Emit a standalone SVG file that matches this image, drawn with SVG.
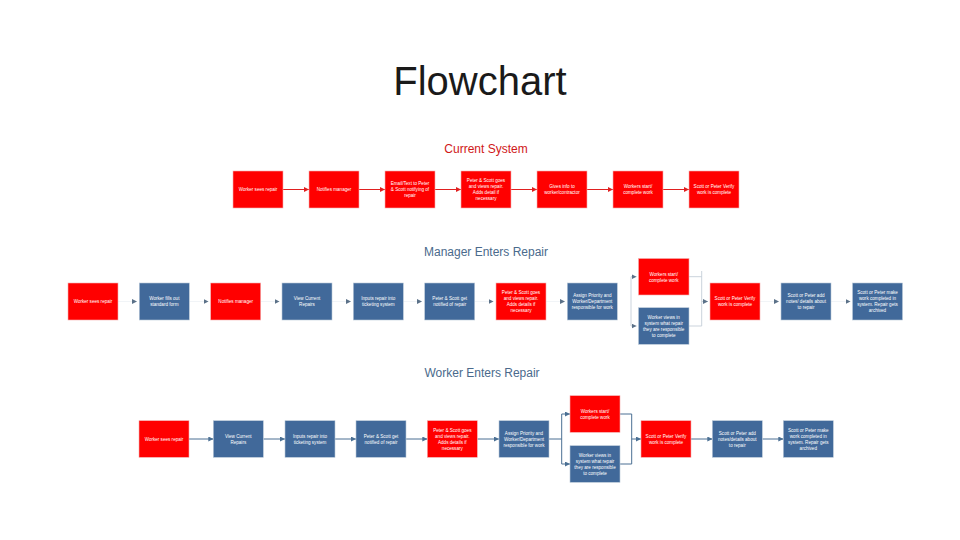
<svg xmlns="http://www.w3.org/2000/svg" width="960" height="540" viewBox="0 0 960 540">
<style>
.title{font-family:"Liberation Sans",Arial,sans-serif;font-size:40px;fill:#1a1a1a;text-anchor:middle}
.sec{font-family:"Liberation Sans",Arial,sans-serif;font-size:12px;text-anchor:middle}
.red{fill:#ff0000;stroke:#f4b0b0;stroke-width:0.6}
.blue{fill:#41699a;stroke:#b9c8d8;stroke-width:0.6}
.t{font-family:"Liberation Sans",Arial,sans-serif;font-size:4.6px;fill:#ffffff;text-anchor:middle}
.cr{fill:none;stroke:#e02020;stroke-width:1}
.cb{fill:none;stroke:#4a6f93;stroke-width:1}
.cf{fill:none;stroke:#eef1f5;stroke-width:0.8}
.cg{fill:none;stroke:#c5ced8;stroke-width:0.9}
</style>
<defs>
<marker id="ar" markerUnits="userSpaceOnUse" markerWidth="5" markerHeight="5" refX="5" refY="2.5" orient="auto"><path d="M0,0 L5,2.5 L0,5 z" fill="#e02020"/></marker>
<marker id="ab" markerUnits="userSpaceOnUse" markerWidth="5" markerHeight="5" refX="5" refY="2.5" orient="auto"><path d="M0,0 L5,2.5 L0,5 z" fill="#4a6f93"/></marker>
<marker id="ag" markerUnits="userSpaceOnUse" markerWidth="5" markerHeight="5" refX="5" refY="2.5" orient="auto"><path d="M0,0 L5,2.5 L0,5 z" fill="#5b7188"/></marker>
</defs>
<rect width="960" height="540" fill="#ffffff"/>
<text class="title" x="480" y="95">Flowchart</text>
<text class="sec" x="486" y="153" fill="#d01818">Current System</text>
<text class="sec" x="486" y="256" fill="#4a6a8c">Manager Enters Repair</text>
<text class="sec" x="482" y="377" fill="#4a6a8c">Worker Enters Repair</text>

<g id="connectors">
<!-- Current system -->
<path class="cr" d="M283,189.5 H309" marker-end="url(#ar)"/>
<path class="cr" d="M359,189.5 H385" marker-end="url(#ar)"/>
<path class="cr" d="M435,189.5 H461" marker-end="url(#ar)"/>
<path class="cr" d="M511,189.5 H537" marker-end="url(#ar)"/>
<path class="cr" d="M587,189.5 H613" marker-end="url(#ar)"/>
<path class="cr" d="M663,189.5 H689" marker-end="url(#ar)"/>
<!-- Manager -->
<path class="cf" d="M118,301.5 H137" marker-end="url(#ag)"/>
<path class="cf" d="M189.3,301.5 H208.5" marker-end="url(#ag)"/>
<path class="cf" d="M260.7,301.5 H279.5" marker-end="url(#ag)"/>
<path class="cf" d="M332,301.5 H351" marker-end="url(#ag)"/>
<path class="cf" d="M403.3,301.5 H422" marker-end="url(#ag)"/>
<path class="cf" d="M474.7,301.5 H493.5" marker-end="url(#ag)"/>
<path class="cf" d="M546,301.5 H565" marker-end="url(#ag)"/>
<path class="cg" d="M631,276.7 V326"/>
<path class="cg" d="M631,276.7 H636.5" marker-end="url(#ag)"/>
<path class="cg" d="M631,326 H636.5" marker-end="url(#ag)"/>
<path class="cg" d="M689,276.7 H701.7 M689,326 H701.7 M701.7,271 V326"/>
<path class="cg" d="M701.7,301.5 H708" marker-end="url(#ag)"/>
<path class="cf" d="M760,301.5 H779" marker-end="url(#ag)"/>
<path class="cf" d="M831,301.5 H850.5" marker-end="url(#ag)"/>
<!-- Worker -->
<path class="cb" d="M189,439 H213.3" marker-end="url(#ab)"/>
<path class="cb" d="M263.3,439 H285" marker-end="url(#ab)"/>
<path class="cb" d="M335,439 H356" marker-end="url(#ab)"/>
<path class="cb" d="M406,439 H427.3" marker-end="url(#ab)"/>
<path class="cb" d="M477.3,439 H499" marker-end="url(#ab)"/>
<path class="cb" d="M549,439 H561.7 M561.7,414 V464"/>
<path class="cb" d="M561.7,414 H570" marker-end="url(#ab)"/>
<path class="cb" d="M561.7,464 H570" marker-end="url(#ab)"/>
<path class="cb" d="M620,414 H631.7 M620,464 H631.7 M631.7,414 V464"/>
<path class="cb" d="M631.7,439 H641" marker-end="url(#ab)"/>
<path class="cb" d="M691,439 H712.3" marker-end="url(#ab)"/>
<path class="cb" d="M762.3,439 H783.3" marker-end="url(#ab)"/>
</g>

<!-- Current System nodes -->
<g id="c1"><rect class="red" x="233" y="171" width="50" height="37"/><text class="t" x="258" y="191">Worker sees repair</text></g>
<g id="c2"><rect class="red" x="309" y="171" width="50" height="37"/><text class="t" x="334" y="191">Notifies manager</text></g>
<g id="c3"><rect class="red" x="385" y="171" width="50" height="37"/><text class="t" x="410" y="185"><tspan x="410">Email/Text to Peter</tspan><tspan x="410" dy="6">&amp; Scott notifying of</tspan><tspan x="410" dy="6">repair</tspan></text></g>
<g id="c4"><rect class="red" x="461" y="171" width="50" height="37"/><text class="t" x="486" y="182"><tspan x="486">Peter &amp; Scott goes</tspan><tspan x="486" dy="6">and views repair.</tspan><tspan x="486" dy="6">Adds detail if</tspan><tspan x="486" dy="6">necessary</tspan></text></g>
<g id="c5"><rect class="red" x="537" y="171" width="50" height="37"/><text class="t" x="562" y="188"><tspan x="562">Gives info to</tspan><tspan x="562" dy="6">worker/contractor</tspan></text></g>
<g id="c6"><rect class="red" x="613" y="171" width="50" height="37"/><text class="t" x="638" y="188"><tspan x="638">Workers start/</tspan><tspan x="638" dy="6">complete work</tspan></text></g>
<g id="c7"><rect class="red" x="689" y="171" width="50" height="37"/><text class="t" x="714" y="188"><tspan x="714">Scott or Peter Verify</tspan><tspan x="714" dy="6">work is complete</tspan></text></g>

<!-- Manager Enters Repair nodes -->
<g id="m1"><rect class="red" x="68" y="283" width="50" height="37"/><text class="t" x="93" y="303">Worker sees repair</text></g>
<g id="m2"><rect class="blue" x="139.3" y="283" width="50" height="37"/><text class="t" x="164.3" y="300"><tspan x="164.3">Worker fills out</tspan><tspan x="164.3" dy="6">standard form</tspan></text></g>
<g id="m3"><rect class="red" x="210.7" y="283" width="50" height="37"/><text class="t" x="235.7" y="303">Notifies manager</text></g>
<g id="m4"><rect class="blue" x="282" y="283" width="50" height="37"/><text class="t" x="307" y="300"><tspan x="307">View Current</tspan><tspan x="307" dy="6">Repairs</tspan></text></g>
<g id="m5"><rect class="blue" x="353.3" y="283" width="50" height="37"/><text class="t" x="378.3" y="300"><tspan x="378.3">Inputs repair into</tspan><tspan x="378.3" dy="6">ticketing system</tspan></text></g>
<g id="m6"><rect class="blue" x="424.7" y="283" width="50" height="37"/><text class="t" x="449.7" y="300"><tspan x="449.7">Peter &amp; Scott get</tspan><tspan x="449.7" dy="6">notified of repair</tspan></text></g>
<g id="m7"><rect class="red" x="496" y="283" width="50" height="37"/><text class="t" x="521" y="294"><tspan x="521">Peter &amp; Scott goes</tspan><tspan x="521" dy="6">and views repair.</tspan><tspan x="521" dy="6">Adds details if</tspan><tspan x="521" dy="6">necessary</tspan></text></g>
<g id="m8"><rect class="blue" x="567.3" y="283" width="50" height="37"/><text class="t" x="592.3" y="297"><tspan x="592.3">Assign Priority and</tspan><tspan x="592.3" dy="6">Worker/Department</tspan><tspan x="592.3" dy="6">responsible for work</tspan></text></g>
<g id="m9"><rect class="red" x="638.5" y="258.5" width="50.5" height="36.5"/><text class="t" x="663.7" y="275.5"><tspan x="663.7">Workers start/</tspan><tspan x="663.7" dy="6">complete work</tspan></text></g>
<g id="m10"><rect class="blue" x="638.5" y="307.7" width="50.5" height="36.6"/><text class="t" x="663.7" y="318.5"><tspan x="663.7">Worker views in</tspan><tspan x="663.7" dy="6">system what repair</tspan><tspan x="663.7" dy="6">they are responsible</tspan><tspan x="663.7" dy="6">to complete</tspan></text></g>
<g id="m11"><rect class="red" x="710" y="283" width="50" height="37"/><text class="t" x="735" y="300"><tspan x="735">Scott or Peter Verify</tspan><tspan x="735" dy="6">work is complete</tspan></text></g>
<g id="m12"><rect class="blue" x="781" y="283" width="50" height="37"/><text class="t" x="806" y="297"><tspan x="806">Scott or Peter add</tspan><tspan x="806" dy="6">notes/ details about</tspan><tspan x="806" dy="6">to repair</tspan></text></g>
<g id="m13"><rect class="blue" x="852.5" y="283" width="50" height="37"/><text class="t" x="877.5" y="294"><tspan x="877.5">Scott or Peter make</tspan><tspan x="877.5" dy="6">work completed in</tspan><tspan x="877.5" dy="6">system. Repair gets</tspan><tspan x="877.5" dy="6">archived</tspan></text></g>

<!-- Worker Enters Repair nodes -->
<g id="w1"><rect class="red" x="139" y="420.7" width="50" height="36.6"/><text class="t" x="164" y="440.6">Worker sees repair</text></g>
<g id="w2"><rect class="blue" x="213.3" y="420.7" width="50" height="36.6"/><text class="t" x="238.3" y="437.6"><tspan x="238.3">View Current</tspan><tspan x="238.3" dy="6">Repairs</tspan></text></g>
<g id="w3"><rect class="blue" x="285" y="420.7" width="50" height="36.6"/><text class="t" x="310" y="437.6"><tspan x="310">Inputs repair into</tspan><tspan x="310" dy="6">ticketing system</tspan></text></g>
<g id="w4"><rect class="blue" x="356" y="420.7" width="50" height="36.6"/><text class="t" x="381" y="437.6"><tspan x="381">Peter &amp; Scott get</tspan><tspan x="381" dy="6">notified of repair</tspan></text></g>
<g id="w5"><rect class="red" x="427.3" y="420.7" width="50" height="36.6"/><text class="t" x="452.3" y="431.6"><tspan x="452.3">Peter &amp; Scott goes</tspan><tspan x="452.3" dy="6">and views repair.</tspan><tspan x="452.3" dy="6">Adds details if</tspan><tspan x="452.3" dy="6">necessary</tspan></text></g>
<g id="w6"><rect class="blue" x="499" y="420.7" width="50" height="36.6"/><text class="t" x="524" y="434.6"><tspan x="524">Assign Priority and</tspan><tspan x="524" dy="6">Worker/Department</tspan><tspan x="524" dy="6">responsible for work</tspan></text></g>
<g id="w7"><rect class="red" x="570" y="395.7" width="50" height="36.6"/><text class="t" x="595" y="412.6"><tspan x="595">Workers start/</tspan><tspan x="595" dy="6">complete work</tspan></text></g>
<g id="w8"><rect class="blue" x="570" y="445.7" width="50" height="36.6"/><text class="t" x="595" y="456.6"><tspan x="595">Worker views in</tspan><tspan x="595" dy="6">system what repair</tspan><tspan x="595" dy="6">they are responsible</tspan><tspan x="595" dy="6">to complete</tspan></text></g>
<g id="w9"><rect class="red" x="641" y="420.7" width="50" height="36.6"/><text class="t" x="666" y="437.6"><tspan x="666">Scott or Peter Verify</tspan><tspan x="666" dy="6">work is complete</tspan></text></g>
<g id="w10"><rect class="blue" x="712.3" y="420.7" width="50" height="36.6"/><text class="t" x="737.3" y="434.6"><tspan x="737.3">Scott or Peter add</tspan><tspan x="737.3" dy="6">notes/details about</tspan><tspan x="737.3" dy="6">to repair</tspan></text></g>
<g id="w11"><rect class="blue" x="783.3" y="420.7" width="50" height="36.6"/><text class="t" x="808.3" y="431.6"><tspan x="808.3">Scott or Peter make</tspan><tspan x="808.3" dy="6">work completed in</tspan><tspan x="808.3" dy="6">system. Repair gets</tspan><tspan x="808.3" dy="6">archived</tspan></text></g>
</svg>
